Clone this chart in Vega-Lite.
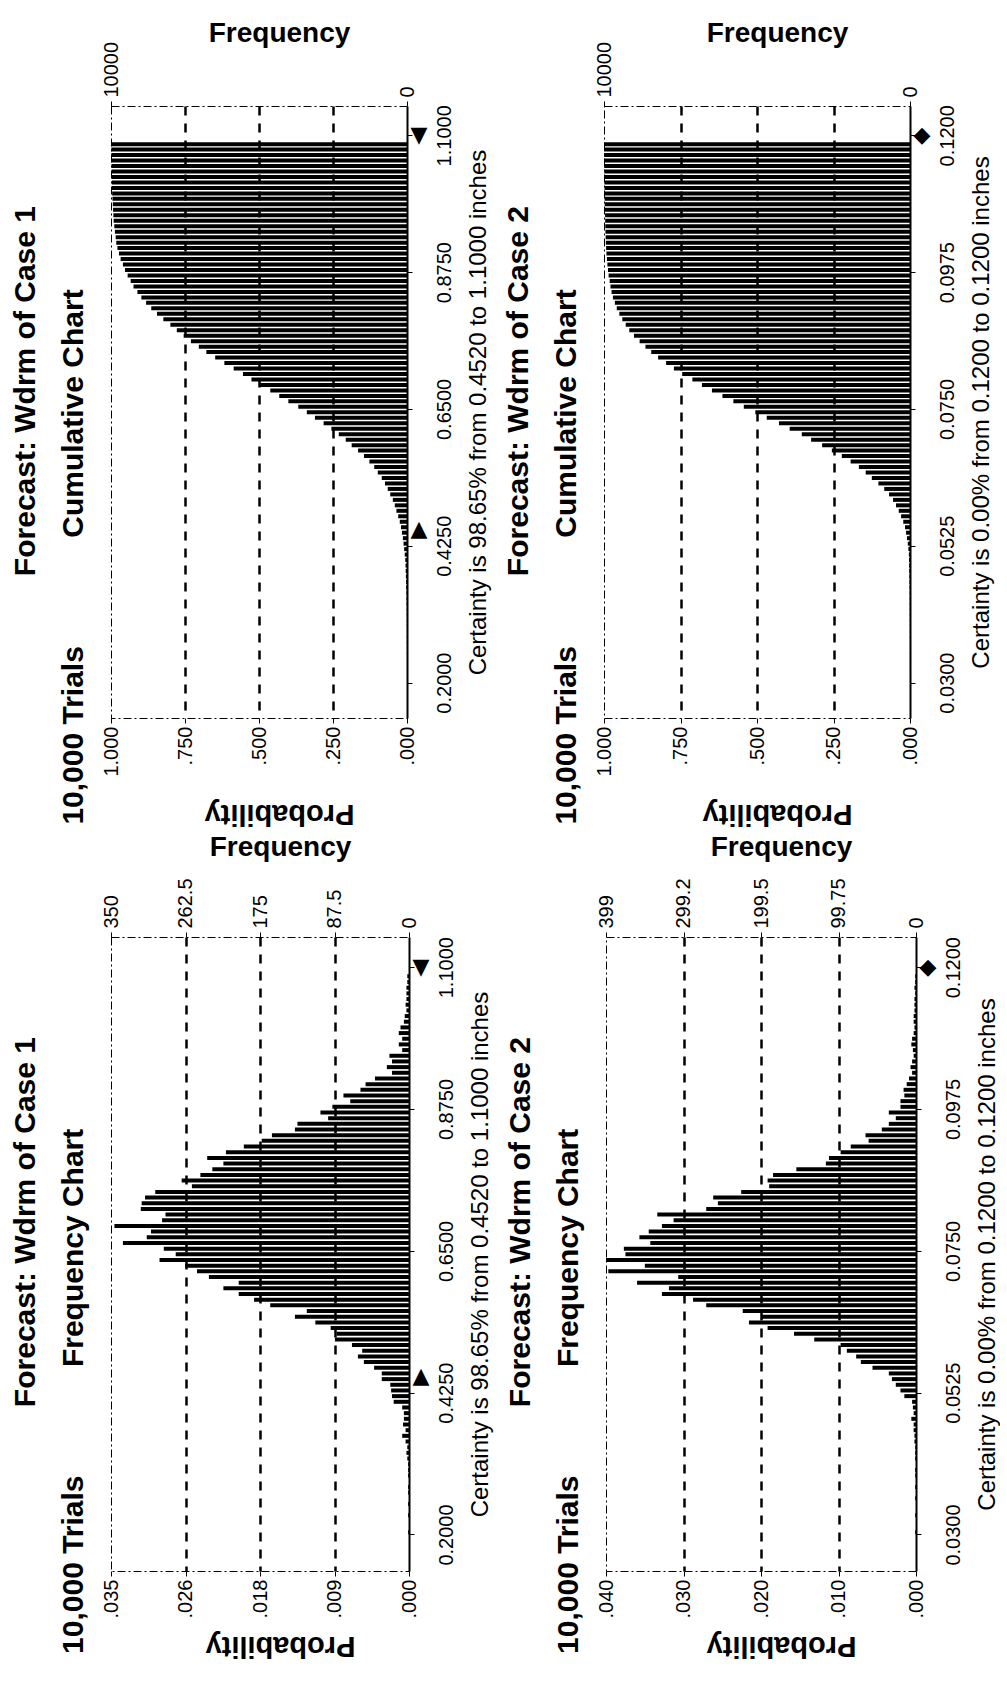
{
  "$schema": "https://vega.github.io/schema/vega-lite/v6.json",
  "background": "white",
  "padding": {"left": 10, "top": 18, "right": 0, "bottom": 12},
  "spacing": 5,
  "config": {
    "font": "Liberation Sans",
    "view": {"stroke": "black", "strokeWidth": 1, "strokeDash": [8, 3, 2, 3]},
    "axis": {"labelColor": "black", "titleColor": "black", "tickColor": "black", "domainColor": "black", "labelFont": "Liberation Sans", "titleFont": "Liberation Sans", "labelFlush": false, "labelOverlap": false, "labelBound": false, "grid": false, "tickSize": 5, "tickWidth": 1, "labelFontSize": 20},
    "title": {"font": "Liberation Sans", "fontSize": 30, "fontWeight": "bold", "color": "black", "orient": "left", "anchor": "end", "frame": "group", "lineHeight": 48, "offset": 12}
  },
  "datasets": {
    "case1": [
      {"v":1.0855,"n":2},{"v":1.0765,"n":2},{"v":1.0675,"n":3},{"v":1.0585,"n":3},{"v":1.0495,"n":3},{"v":1.0405,"n":4},{"v":1.0315,"n":3},{"v":1.0225,"n":5},{"v":1.0135,"n":6},{"v":1.0045,"n":10},
      {"v":0.9955,"n":12},{"v":0.9865,"n":8},{"v":0.9775,"n":12},{"v":0.9685,"n":8},{"v":0.9595,"n":23},{"v":0.9505,"n":20},{"v":0.9415,"n":26},{"v":0.9325,"n":20},{"v":0.9235,"n":40},{"v":0.9145,"n":51},
      {"v":0.9055,"n":57},{"v":0.8965,"n":77},{"v":0.8875,"n":69},{"v":0.8785,"n":90},{"v":0.8695,"n":104},{"v":0.8605,"n":95},{"v":0.8515,"n":131},{"v":0.8425,"n":134},{"v":0.8335,"n":161},{"v":0.8245,"n":173},
      {"v":0.8155,"n":194},{"v":0.8065,"n":215},{"v":0.7975,"n":237},{"v":0.7885,"n":218},{"v":0.7795,"n":231},{"v":0.7705,"n":245},{"v":0.7615,"n":267},{"v":0.7525,"n":255},{"v":0.7435,"n":298},{"v":0.7345,"n":310},
      {"v":0.7255,"n":314},{"v":0.7165,"n":315},{"v":0.7075,"n":286},{"v":0.6985,"n":290},{"v":0.6895,"n":346},{"v":0.6805,"n":303},{"v":0.6715,"n":308},{"v":0.6625,"n":336},{"v":0.6535,"n":288},{"v":0.6445,"n":274},
      {"v":0.6355,"n":293},{"v":0.6265,"n":263},{"v":0.6175,"n":249},{"v":0.6085,"n":235},{"v":0.5995,"n":200},{"v":0.5905,"n":218},{"v":0.5815,"n":200},{"v":0.5725,"n":182},{"v":0.5635,"n":163},{"v":0.5545,"n":120},
      {"v":0.5455,"n":134},{"v":0.5365,"n":110},{"v":0.5275,"n":92},{"v":0.5185,"n":85},{"v":0.5095,"n":87},{"v":0.5005,"n":67},{"v":0.4915,"n":55},{"v":0.4825,"n":60},{"v":0.4735,"n":53},{"v":0.4645,"n":41},
      {"v":0.4555,"n":32},{"v":0.4465,"n":32},{"v":0.4375,"n":22},{"v":0.4285,"n":21},{"v":0.4195,"n":20},{"v":0.4105,"n":18},{"v":0.4015,"n":8},{"v":0.3925,"n":6},{"v":0.3835,"n":6},{"v":0.3745,"n":7},
      {"v":0.3655,"n":4},{"v":0.3565,"n":8},{"v":0.3475,"n":4},{"v":0.3385,"n":2},{"v":0.3295,"n":3},{"v":0.3205,"n":2},{"v":0.3115,"n":1},{"v":0.3025,"n":1},{"v":0.2935,"n":1},{"v":0.2845,"n":0},
      {"v":0.2755,"n":1},{"v":0.2665,"n":1},{"v":0.2575,"n":0},{"v":0.2485,"n":1},{"v":0.2395,"n":0},{"v":0.2305,"n":1},{"v":0.2215,"n":0},{"v":0.2125,"n":0},{"v":0.2035,"n":1},{"v":0.1945,"n":0},{"v":0.1855,"n":0}
    ],
    "case2": [
      {"v":0.11855,"n":1},{"v":0.11765,"n":1},{"v":0.11675,"n":2},{"v":0.11585,"n":1},{"v":0.11495,"n":2},{"v":0.11405,"n":2},{"v":0.11315,"n":2},{"v":0.11225,"n":3},{"v":0.11135,"n":3},{"v":0.11045,"n":2},
      {"v":0.10955,"n":3},{"v":0.10865,"n":5},{"v":0.10775,"n":6},{"v":0.10685,"n":4},{"v":0.10595,"n":3},{"v":0.10505,"n":5},{"v":0.10415,"n":7},{"v":0.10325,"n":5},{"v":0.10235,"n":9},{"v":0.10145,"n":12},
      {"v":0.10055,"n":16},{"v":0.09965,"n":15},{"v":0.09875,"n":20},{"v":0.09785,"n":20},{"v":0.09695,"n":35},{"v":0.09605,"n":26},{"v":0.09515,"n":35},{"v":0.09425,"n":44},{"v":0.09335,"n":65},{"v":0.09245,"n":61},
      {"v":0.09155,"n":84},{"v":0.09065,"n":97},{"v":0.08975,"n":112},{"v":0.08885,"n":116},{"v":0.08795,"n":154},{"v":0.08705,"n":184},{"v":0.08615,"n":191},{"v":0.08525,"n":189},{"v":0.08435,"n":225},{"v":0.08345,"n":261},
      {"v":0.08255,"n":255},{"v":0.08165,"n":270},{"v":0.08075,"n":333},{"v":0.07985,"n":312},{"v":0.07895,"n":327},{"v":0.07805,"n":344},{"v":0.07715,"n":356},{"v":0.07625,"n":342},{"v":0.07535,"n":376},{"v":0.07445,"n":374},
      {"v":0.07355,"n":399},{"v":0.07265,"n":349},{"v":0.07175,"n":396},{"v":0.07085,"n":306},{"v":0.06995,"n":359},{"v":0.06905,"n":318},{"v":0.06815,"n":327},{"v":0.06725,"n":287},{"v":0.06635,"n":270},{"v":0.06545,"n":223},
      {"v":0.06455,"n":199},{"v":0.06365,"n":215},{"v":0.06275,"n":191},{"v":0.06185,"n":157},{"v":0.06095,"n":131},{"v":0.06005,"n":97},{"v":0.05915,"n":89},{"v":0.05825,"n":77},{"v":0.05735,"n":71},{"v":0.05645,"n":56},
      {"v":0.05555,"n":35},{"v":0.05465,"n":31},{"v":0.05375,"n":26},{"v":0.05285,"n":20},{"v":0.05195,"n":15},{"v":0.05105,"n":5},{"v":0.05015,"n":4},{"v":0.04925,"n":3},{"v":0.04835,"n":6},{"v":0.04745,"n":3},
      {"v":0.04655,"n":3},{"v":0.04565,"n":2},{"v":0.04475,"n":2},{"v":0.04385,"n":1},{"v":0.04295,"n":1},{"v":0.04205,"n":1},{"v":0.04115,"n":0},{"v":0.04025,"n":1},{"v":0.03935,"n":1},{"v":0.03845,"n":0},
      {"v":0.03755,"n":1},{"v":0.03665,"n":0},{"v":0.03575,"n":1},{"v":0.03485,"n":0},{"v":0.03395,"n":0},{"v":0.03305,"n":1},{"v":0.03215,"n":0},{"v":0.03125,"n":0},{"v":0.03035,"n":1},{"v":0.02945,"n":0},{"v":0.02855,"n":0}
    ],
    "cert1": [{"v": 1.1, "end": "upper"}, {"v": 0.452, "end": "lower"}],
    "cert2": [{"v": 0.12, "end": "both"}]
  },
  "vconcat": [
    {
      "spacing": 12,
      "hconcat": [
        {
          "width": 296, "height": 612,
          "title": {"text": ["Forecast: Wdrm of Case 1\u00a0\u00a0\u00a0\u00a0\u00a0\u00a0\u00a0\u00a0\u00a0\u00a0\u00a0\u00a0\u200b", "10,000 Trials\u00a0\u00a0\u00a0\u00a0\u00a0\u00a0\u00a0\u00a0\u00a0\u00a0\u00a0\u00a0\u00a0Cumulative Chart\u00a0\u00a0\u00a0\u00a0\u00a0\u00a0\u00a0\u00a0\u00a0\u00a0\u00a0\u00a0\u00a0\u00a0\u00a0\u00a0\u00a0\u00a0\u00a0\u00a0\u00a0\u00a0\u200b"]},
          "resolve": {"scale": {"x": "independent"}},
          "encoding": {
            "y": {"field": "v", "type": "quantitative", "scale": {"domain": [0.15, 1.14], "nice": false, "zero": false},
              "axis": {"orient": "right", "values": [0.2, 0.425, 0.65, 0.875, 1.1], "format": ".4f", "labelAngle": 270, "labelAlign": "center", "labelBaseline": "top", "labelPadding": 22, "domain": true, "domainWidth": 2, "title": "Certainty is 98.65% from 0.4520 to 1.1000 inches", "titleAngle": 270, "titleBaseline": "top", "titleFontSize": 24, "titleFontWeight": "normal", "titlePadding": 12}}
          },
          "layer": [
            {
              "data": {"name": "case1"},
              "transform": [{"window": [{"op": "sum", "field": "n", "as": "cum"}], "sort": [{"field": "v", "order": "ascending"}], "frame": [null, 0]}],
              "mark": {"type": "bar", "orient": "horizontal", "size": 4, "color": "black"},
              "encoding": {
                "x": {"field": "cum", "type": "quantitative", "scale": {"domain": [0, 10000], "reverse": true, "nice": false},
                  "axis": {"orient": "top", "values": [0, 10000], "labelExpr": "toString(datum.value)", "labelAngle": 270, "labelAlign": "left", "labelBaseline": "middle", "labelPadding": 4, "domain": false, "title": "Frequency", "titleFontSize": 28, "titleFontWeight": "bold", "titleAngle": 0, "titlePadding": -6, "titleX": 168}}
              }
            },
            {
              "data": {"name": "cert1"},
              "mark": {"type": "text", "dx": 12, "fontSize": 22, "font": "DejaVu Sans", "color": "black", "align": "center", "baseline": "middle"},
              "encoding": {
                "x": {"datum": 0, "type": "quantitative", "scale": {"domain": [0, 1], "reverse": true, "nice": false},
                  "axis": {"orient": "bottom", "values": [0, 0.25, 0.5, 0.75, 1], "labelExpr": "slice(format(datum.value + 1e-9, '.3f'), datum.value >= 1 ? 0 : 1)", "labelAngle": 270, "labelAlign": "right", "labelBaseline": "middle", "labelPadding": 3, "domain": false, "grid": true, "gridColor": "black", "gridDash": [9, 8], "gridWidth": 2.5, "gridOpacity": {"condition": {"test": "datum.value > 0.001 && datum.value < 0.999", "value": 1}, "value": 0}, "title": "Probability", "titleFontSize": 29, "titleFontWeight": "bold", "titleAngle": 180, "titleBaseline": "bottom", "titlePadding": 22, "titleX": 168}},
                "text": {"condition": [{"test": "datum.end === 'upper'", "value": "▼"}, {"test": "datum.end === 'lower'", "value": "▲"}], "value": "◆"}
              }
            }
          ]
        },
        {
          "width": 306, "height": 612,
          "title": {"text": ["Forecast: Wdrm of Case 2\u00a0\u00a0\u00a0\u00a0\u00a0\u00a0\u00a0\u00a0\u00a0\u00a0\u00a0\u00a0\u200b", "10,000 Trials\u00a0\u00a0\u00a0\u00a0\u00a0\u00a0\u00a0\u00a0\u00a0\u00a0\u00a0\u00a0\u00a0Cumulative Chart\u00a0\u00a0\u00a0\u00a0\u00a0\u00a0\u00a0\u00a0\u00a0\u00a0\u00a0\u00a0\u00a0\u00a0\u00a0\u00a0\u00a0\u00a0\u00a0\u00a0\u00a0\u00a0\u200b"]},
          "resolve": {"scale": {"x": "independent"}},
          "encoding": {
            "y": {"field": "v", "type": "quantitative", "scale": {"domain": [0.025, 0.124], "nice": false, "zero": false},
              "axis": {"orient": "right", "values": [0.03, 0.0525, 0.075, 0.0975, 0.12], "format": ".4f", "labelAngle": 270, "labelAlign": "center", "labelBaseline": "top", "labelPadding": 22, "domain": true, "domainWidth": 2, "title": "Certainty is 0.00% from 0.1200 to 0.1200 inches", "titleAngle": 270, "titleBaseline": "top", "titleFontSize": 24, "titleFontWeight": "normal", "titlePadding": 12}}
          },
          "layer": [
            {
              "data": {"name": "case2"},
              "transform": [{"window": [{"op": "sum", "field": "n", "as": "cum"}], "sort": [{"field": "v", "order": "ascending"}], "frame": [null, 0]}],
              "mark": {"type": "bar", "orient": "horizontal", "size": 4, "color": "black"},
              "encoding": {
                "x": {"field": "cum", "type": "quantitative", "scale": {"domain": [0, 10000], "reverse": true, "nice": false},
                  "axis": {"orient": "top", "values": [0, 10000], "labelExpr": "toString(datum.value)", "labelAngle": 270, "labelAlign": "left", "labelBaseline": "middle", "labelPadding": 4, "domain": false, "title": "Frequency", "titleFontSize": 28, "titleFontWeight": "bold", "titleAngle": 0, "titlePadding": -6, "titleX": 173}}
              }
            },
            {
              "data": {"name": "cert2"},
              "mark": {"type": "text", "dx": 12, "fontSize": 22, "font": "DejaVu Sans", "color": "black", "align": "center", "baseline": "middle"},
              "encoding": {
                "x": {"datum": 0, "type": "quantitative", "scale": {"domain": [0, 1], "reverse": true, "nice": false},
                  "axis": {"orient": "bottom", "values": [0, 0.25, 0.5, 0.75, 1], "labelExpr": "slice(format(datum.value + 1e-9, '.3f'), datum.value >= 1 ? 0 : 1)", "labelAngle": 270, "labelAlign": "right", "labelBaseline": "middle", "labelPadding": 3, "domain": false, "grid": true, "gridColor": "black", "gridDash": [9, 8], "gridWidth": 2.5, "gridOpacity": {"condition": {"test": "datum.value > 0.001 && datum.value < 0.999", "value": 1}, "value": 0}, "title": "Probability", "titleFontSize": 29, "titleFontWeight": "bold", "titleAngle": 180, "titleBaseline": "bottom", "titlePadding": 22, "titleX": 173}},
                "text": {"condition": [{"test": "datum.end === 'upper'", "value": "▼"}, {"test": "datum.end === 'lower'", "value": "▲"}], "value": "◆"}
              }
            }
          ]
        }
      ]
    },
    {
      "spacing": 12,
      "hconcat": [
        {
          "width": 298, "height": 634,
          "title": {"text": ["Forecast: Wdrm of Case 1\u00a0\u00a0\u00a0\u00a0\u00a0\u00a0\u00a0\u00a0\u00a0\u00a0\u00a0\u00a0\u200b", "10,000 Trials\u00a0\u00a0\u00a0\u00a0\u00a0\u00a0\u00a0\u00a0\u00a0\u00a0\u00a0\u00a0\u00a0Frequency Chart\u00a0\u00a0\u00a0\u00a0\u00a0\u00a0\u00a0\u00a0\u00a0\u00a0\u00a0\u00a0\u00a0\u00a0\u00a0\u00a0\u00a0\u00a0\u00a0\u00a0\u00a0\u00a0\u00a0\u200b"]},
          "resolve": {"scale": {"x": "independent"}},
          "encoding": {
            "y": {"field": "v", "type": "quantitative", "scale": {"domain": [0.15, 1.14], "nice": false, "zero": false},
              "axis": {"orient": "right", "values": [0.2, 0.425, 0.65, 0.875, 1.1], "format": ".4f", "labelAngle": 270, "labelAlign": "center", "labelBaseline": "top", "labelPadding": 22, "domain": true, "domainWidth": 2, "title": "Certainty is 98.65% from 0.4520 to 1.1000 inches", "titleAngle": 270, "titleBaseline": "top", "titleFontSize": 24, "titleFontWeight": "normal", "titlePadding": 12}}
          },
          "layer": [
            {
              "data": {"name": "case1"},
              "mark": {"type": "bar", "orient": "horizontal", "size": 4, "color": "black"},
              "encoding": {
                "x": {"field": "n", "type": "quantitative", "scale": {"domain": [0, 350], "reverse": true, "nice": false},
                  "axis": {"orient": "top", "values": [0, 87.5, 175, 262.5, 350], "labelExpr": "toString(datum.value)", "labelAngle": 270, "labelAlign": "left", "labelBaseline": "middle", "labelPadding": 4, "domain": false, "title": "Frequency", "titleFontSize": 28, "titleFontWeight": "bold", "titleAngle": 0, "titlePadding": 16, "titleX": 169}}
              }
            },
            {
              "data": {"name": "cert1"},
              "mark": {"type": "text", "dx": 12, "fontSize": 22, "font": "DejaVu Sans", "color": "black", "align": "center", "baseline": "middle"},
              "encoding": {
                "x": {"datum": 0, "type": "quantitative", "scale": {"domain": [0, 0.035], "reverse": true, "nice": false},
                  "axis": {"orient": "bottom", "values": [0, 0.00875, 0.0175, 0.02625, 0.035], "labelExpr": "slice(format(datum.value + 1e-9, '.3f'), datum.value >= 1 ? 0 : 1)", "labelAngle": 270, "labelAlign": "right", "labelBaseline": "middle", "labelPadding": 3, "domain": false, "grid": true, "gridColor": "black", "gridDash": [9, 8], "gridWidth": 2.5, "gridOpacity": {"condition": {"test": "datum.value > 0.0001 && datum.value < 0.0349", "value": 1}, "value": 0}, "title": "Probability", "titleFontSize": 29, "titleFontWeight": "bold", "titleAngle": 180, "titleBaseline": "bottom", "titlePadding": 13, "titleX": 169}},
                "text": {"condition": [{"test": "datum.end === 'upper'", "value": "▼"}, {"test": "datum.end === 'lower'", "value": "▲"}], "value": "◆"}
              }
            }
          ]
        },
        {
          "width": 310, "height": 634,
          "title": {"text": ["Forecast: Wdrm of Case 2\u00a0\u00a0\u00a0\u00a0\u00a0\u00a0\u00a0\u00a0\u00a0\u00a0\u00a0\u00a0\u200b", "10,000 Trials\u00a0\u00a0\u00a0\u00a0\u00a0\u00a0\u00a0\u00a0\u00a0\u00a0\u00a0\u00a0\u00a0Frequency Chart\u00a0\u00a0\u00a0\u00a0\u00a0\u00a0\u00a0\u00a0\u00a0\u00a0\u00a0\u00a0\u00a0\u00a0\u00a0\u00a0\u00a0\u00a0\u00a0\u00a0\u00a0\u00a0\u00a0\u200b"]},
          "resolve": {"scale": {"x": "independent"}},
          "encoding": {
            "y": {"field": "v", "type": "quantitative", "scale": {"domain": [0.025, 0.124], "nice": false, "zero": false},
              "axis": {"orient": "right", "values": [0.03, 0.0525, 0.075, 0.0975, 0.12], "format": ".4f", "labelAngle": 270, "labelAlign": "center", "labelBaseline": "top", "labelPadding": 22, "domain": true, "domainWidth": 2, "title": "Certainty is 0.00% from 0.1200 to 0.1200 inches", "titleAngle": 270, "titleBaseline": "top", "titleFontSize": 24, "titleFontWeight": "normal", "titlePadding": 12}}
          },
          "layer": [
            {
              "data": {"name": "case2"},
              "mark": {"type": "bar", "orient": "horizontal", "size": 4, "color": "black"},
              "encoding": {
                "x": {"field": "n", "type": "quantitative", "scale": {"domain": [0, 399], "reverse": true, "nice": false},
                  "axis": {"orient": "top", "values": [0, 99.75, 199.5, 299.2, 399], "labelExpr": "toString(datum.value)", "labelAngle": 270, "labelAlign": "left", "labelBaseline": "middle", "labelPadding": 4, "domain": false, "title": "Frequency", "titleFontSize": 28, "titleFontWeight": "bold", "titleAngle": 0, "titlePadding": 16, "titleX": 175}}
              }
            },
            {
              "data": {"name": "cert2"},
              "mark": {"type": "text", "dx": 12, "fontSize": 22, "font": "DejaVu Sans", "color": "black", "align": "center", "baseline": "middle"},
              "encoding": {
                "x": {"datum": 0, "type": "quantitative", "scale": {"domain": [0, 0.0399], "reverse": true, "nice": false},
                  "axis": {"orient": "bottom", "values": [0, 0.009975, 0.01995, 0.029925, 0.0399], "labelExpr": "slice(format(datum.value + 1e-9, '.3f'), datum.value >= 1 ? 0 : 1)", "labelAngle": 270, "labelAlign": "right", "labelBaseline": "middle", "labelPadding": 3, "domain": false, "grid": true, "gridColor": "black", "gridDash": [9, 8], "gridWidth": 2.5, "gridOpacity": {"condition": {"test": "datum.value > 0.0001 && datum.value < 0.0398", "value": 1}, "value": 0}, "title": "Probability", "titleFontSize": 29, "titleFontWeight": "bold", "titleAngle": 180, "titleBaseline": "bottom", "titlePadding": 13, "titleX": 175}},
                "text": {"condition": [{"test": "datum.end === 'upper'", "value": "▼"}, {"test": "datum.end === 'lower'", "value": "▲"}], "value": "◆"}
              }
            }
          ]
        }
      ]
    }
  ]
}
